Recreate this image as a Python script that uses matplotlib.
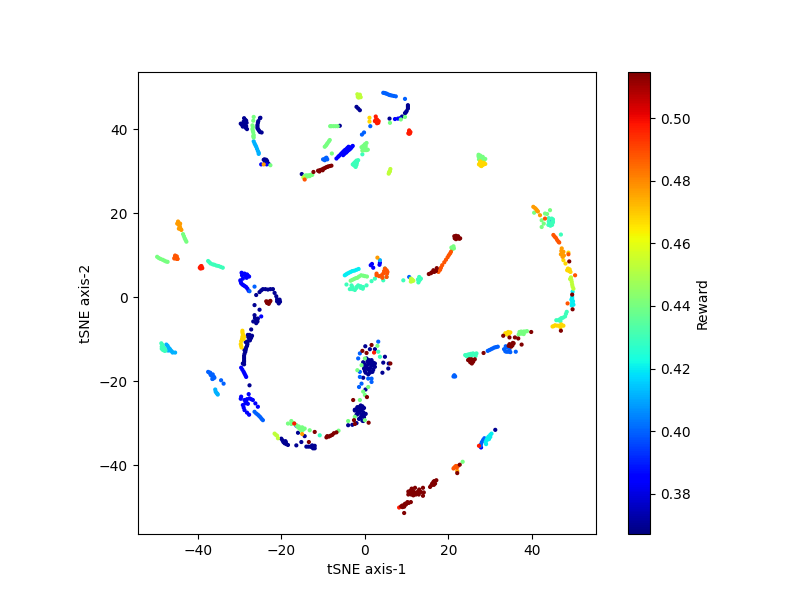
import numpy as np
import matplotlib
matplotlib.use('Agg')
import matplotlib.pyplot as plt

# === DATA === (x, y, grouped by reward level)
navy = [(-29.7,41.3),(-29,41.8),(-28.8,41),(-28.5,40.3),(-28.3,41.5),(-28.9,42.6),(-29.2,40.6),(-28.4,42),(-28.2,40),
        (-29,41),(-28.7,41.6),(-29.4,41),(-28.6,42.2),(-28.4,40.7),
        (-25.1,42.6),(-25.5,41.9),(-25.7,41),(-25.7,40.2),(-25.3,39.6),(-24.7,39.2),(-25,42.7),(-25.6,41.5),(-25.7,40.6),(-25.5,39.9),(-25.1,39.3),
        (-24.2,32.7),(-23.6,32.7),(-23.3,32),(-23.9,32.2),(-23,31.7),(-23.8,32.5),(-23.4,32.4),(-24,32.8),(-15.1,29.3),(-6,40.8),
        (-2,45.3),(-1.6,44.9),(-1.2,44.5),(5.9,42.5),(10.3,45.7),(10.3,44.9),(10,44.3),(9.6,43.8),(8.9,43),(9.8,44),(10.3,45.3),
        (-26,0.5),(-25.2,1.2),(-24.4,1.9),(-23.2,1.8),(-22,1.9),(-21.2,0.2),(-20.4,-0.6),(-20.6,-1.5),(-21,-1),(-21,-0.5),(-20.3,-1.1),(-21.6,1),
        (-24.8,1.6),(-23.8,1.9),(-22.6,1.9),
        (-26.4,-1.9),(-25.2,-3),(-26.4,-4.3),(-25.8,-5.5),(-26.7,-5.8),(-26,-6.2),(-25.6,-5.1),(-25.7,-5.8),(-26.3,-5),(-27.2,-7.7),
        (-27.6,-9),(-27.2,-9.6),(-27.5,-10.3),(-28.1,-11.2),(-28.4,-12),(-28.6,-13),(-28.9,-14),(-28.9,-15),(-28.9,-16),
        (-28,-10.5),(-27.3,-9.8),(-28,-9),(-28.8,-12.6),(-29.2,-15.8),(-27.6,-21),
        (-27.6,-9.8),(-28.2,-11.6),(-28.5,-12.5),(-28.8,-13.5),(-28.9,-14.5),(-28.9,-15.4),(-28.5,-10.7),(-27.9,-9.5),(-27,-9.2),
        (-20,-33.7),(-19.5,-34.5),(-18.8,-35),(-18.4,-35.2),(-19.2,-34.8),(-19.7,-34.1),(-19,-34.3),(-18.9,-34.6),
        (-16.4,-35.3),(-16,-32.3),(-14.4,-33.1),(-15.2,-34.5),
        (-14,-35.6),(-13,-35.6),(-12.4,-36),(-12,-35.4),(-12,-36),(-12.6,-35.3),(-13.5,-35.6),(-12.7,-35.7),(-12.2,-35.7),
        (0.1,-11.7),(1.2,-12.4),(2.4,-12.4),(-0.4,-15.5),(0.4,-14.6),(1,-15),(1.6,-15),(2,-15.6),(2.4,-15.8),(0.8,-16),(0,-16.2),
        (-0.2,-17),(0.6,-17),(1.4,-16.8),(2,-17.3),(1.2,-18),(0.2,-18),(4.8,-14.2),(5.7,-15.8),(5.6,-17),(4.2,-18),(4.4,-15.6),
        (0.6,-15.4),(1.4,-15.6),(1.8,-16.2),(0.4,-16.6),(1,-17.4),(1.8,-17.8),(-0.2,-15.9),(0.8,-18.4),(1.6,-16.2),(2.4,-16.6),(0,-17.6),
        (0.15,-22),(-0.4,-19.2),(-1.8,-26.2),(-1,-25.8),(-0.2,-26.4),(-2.4,-27),(-1.4,-27.4),(-0.4,-27.4),(0.2,-27.8),(-2,-28),
        (-1,-28.6),(-0.2,-28.6),(-0.6,-29.4),(-2.4,-26.8),(-4,-30.5),(-2,-30),(-0.4,-29.5),(-3,-30.4),(31.2,-31.6),
        (-1.4,-26.2),(-0.6,-26),(-1.9,-26.6),(-1,-27),(-1.7,-27.8),(-0.8,-28),(-0.4,-28.1),(-1.4,-29),(-1.8,-27.2),(-0.8,-26.8)]
blue = [(-6.8,33),(-6.1,33.7),(-5.4,34.4),(-4.8,35),(-4.2,35.5),(-3.9,35.8),(-5.2,33.8),(-4.5,34.4),(-3.9,35),(-3.3,35.5),(-2.9,36),
        (-6.4,33.4),(-5.7,34.1),(-5.1,34.7),(-4.5,35.2),(-4.9,34.1),(-4.2,34.7),(-3.6,35.2),(-3.1,35.8),
        (7.2,42.4),(7.9,42.5),(8.4,42.6),(-24.8,31.6),(-23.5,31.6),
        (-29.5,5.8),(-29,5.5),(-28.2,5.4),(-27.7,4.9),(-28,5),(-29.8,4),(-29.6,3.3),(-29,2.8),(-28.4,2.4),(-27.8,1.5),(-28.3,4.6),
        (-28.8,5.6),(-28,5.1),(-29.7,3.7),(-29.3,3),(-28.7,2.6),(-28.1,2),(-29.4,5.2),(-29.2,4.4),(-28.6,5),
        (-24.8,-4.6),(1.4,7.6),(2,7),(3.6,8.2),(1.7,7.9),(3.5,7.7),(-29.6,-16.8),(-29,-17.8),(-28.6,-18.6),(-28.4,-19),(-28.8,-18.2),(-29.3,-17.3),
        (-27.8,-23.1),(-29.6,-23.7),(-29.7,-24.2),(-28.8,-24.5),(-27.6,-24.1),(-26.8,-24.5),(-25.6,-26.1),(-28.4,-24.9),
        (-29.2,-25.7),(-28.8,-26.9),(-27.7,-28),(-28.6,-25.3),(-28.2,-24.3),(-27.2,-24.3),(-26.2,-25.3),(-29,-26.3),(-28.2,-27.5),(-28,-25.4),
        (-16.4,-30.6),(27.8,-35.8)]
azure = [(-10,32.8),(-9.2,33.2),(-9.5,33),(-9.6,32.6),(-9,32.8),(4.4,48.65),(5,48.5),(5.7,48.2),(6.4,48),(7.4,47.8),(4.7,48.6),(5.3,48.4),(6,48.1),(6.9,47.9),
         (9.6,47.2),(1.3,40.7),(-0.7,38.7),(-0.2,39.2),
         (-27.6,1.4),(-26.4,2.5),(10.6,4.8),(44.5,18.3),(33.3,-12.4),(34.3,-13),(36.1,-13),(34,-12),(33.9,-13),(34.8,-13.1),(33.6,-12.9),(33.7,-11.7),(34.6,-12.6),
         (29.4,-12.8),(30.2,-12.4),(31,-12),(31.8,-11.8),(29.8,-12.6),(30.6,-12.2),(31.4,-11.9),(21.4,-18.8),(21.4,-18.6),(21.6,-18.9),(21.2,-18.9),
         (28.3,-34),(27.8,-35),(27.7,-35.4),(28,-34.5),(28.6,-33.6),(-37.5,-17.8),(-37,-18),(-36.4,-18.4),(-36.1,-19),(-36.5,-19.5),(-36,-19.2),
         (-37.2,-18),(-36.7,-18.7),(-36.9,-18.5),(-36.3,-19.4),
         (-34.4,-19.8),(-33.8,-20.6),(-26.4,-27.3),(-25.6,-28),(-25,-28.6),(-24.4,-29.3),(-26,-27.7),(-25.3,-28.3),(-24.7,-29),
         (3.2,-10.6),(-1.2,-13.4),(-1.6,-14.6),(-1.2,-17.8),(-1.2,-19),(0.8,-19.4),(1.6,-19.4),(-0.8,-20.6),(1.6,-20.2),(-1.4,-21.4)]
light_blue = [(-26.6,37.1),(-26.2,36.2),(-25.8,35.3),(-25.4,34.4),(-25.4,34.1),(-26.4,36.6),(-26,35.8),(-25.6,34.8),
              (-47.5,-11.3),(-47,-12),(-46.5,-12.6),(-46,-13.2),(-47.2,-11.6),(-46.7,-12.3),(-46.2,-12.9),(-46.8,-12.7),
              (-45.4,-13.2),(-47.2,-12.7),(-35.7,-22.5),(-35.3,-23),(-35.2,-23.2),(-35.8,-22),(-35.5,-22.8),(3.6,8.8)]
cyan = [(-4.8,5.2),(-4.2,5.6),(-3.4,6),(-2.5,6.3),(-1.5,6.7),(-4.5,5.4),(-3.8,5.8),(-3,6.2),(-2,6.5),
        (49.7,1.3),(49.6,0),(49.6,-0.8),(49.6,-1.7),(49.5,-2),(49.6,-0.4),(49.6,-1.3),(49.8,-1),(49.4,-0.6),(49.9,-1.8),
        (30.3,-32.5),(29.6,-33.2),(29.1,-34),(29,-35),(29.4,-33.9),(30,-32.8),(29.3,-33.6),(28.9,-34.5),(29.7,-33.8),(30,-33.3)]
turquoise = [(-0.6,34),(-2.6,31.4),(-2,31.5),(-2,32.5),(-1.6,32.6),(-2.9,31.6),(-2.2,31),(-2.3,31.2),(-2.6,31.9),(-1.9,32),(-2.3,32.2),
             (-37.5,8.6),(-36.9,8),(-36,7.7),(-35,7.4),(-34,7),(-36.4,7.8),(-35.5,7.5),(-34.5,7.2),(-37.2,8.3),
             (-48.7,-11),(-48.6,-11.8),(-48.3,-12.6),(-47.9,-12.8),(-48.4,-11.4),(-48.2,-12),(-47.9,-12.3),(-48.6,-12.3),(-47.7,-12.7),
             (-4.4,3),(-3.6,1.9),(-2.4,1.7),(-1.6,2.8),(-0.4,2.4),(0.4,2.8),(1.6,3.8),(2.4,4.4),(4,4.8),(5.2,4.8),(4.4,4),
             (-3,2.4),(-2,2.2),(-1,2.6),(-0.5,2),(-3,1.9),(-2,2.4),(-3.2,2.8),(-1,2.2),(4.8,6.8),(9.2,4),(13,4.8),(13,3.9),(13.4,4.4),(12.8,3.5),(13.2,4.2),(12.7,4.2),
             (44.7,18.7),(45,18.5),(43.9,17.2),(44.3,17.5),(44,18.8),(45,17.8),(45,18),(44,18),(44.8,17.2),(44.4,17),(46.9,14.9),
             (48.3,-3.5),(47.9,-4.6),(47,-5),(46.3,-5.5),(45.8,-5.5),(47.4,-4.9),(46.6,-5.3),(48.1,-4),(46.8,-5.7),
             (24,-13.8),(24.5,-14.1),(25,-13.6),(25.9,-13.4),(26.7,-13.4),(26.5,-14),(25.6,-13.8),(24.3,-14),(25,-14),(25.4,-13.5),(26.2,-13.7),(24.6,-13.7),(25.3,-14.1),
             (-10.8,-32.9),(3.2,-13),(3.6,-14.2)]
mint = [(-26.6,42.9),(-26.7,42),(-26.9,40.9),(-26.9,40),(-26.7,39.2),(-26.6,38.6),(-26.6,38),(-26.8,40.5),(-26.8,39.6),(-26.7,38.3),(-22.6,31.4),
        (-14.4,28.9),(-14,29),(-13.5,29),(-13,29.1),(-12.6,29.1),(-13.8,28.7),(-13.2,28.8),(-9.6,35.8),(-9.1,36.4),(-8.6,37.1),(-8.4,37.4),(-9.3,36.1),(-8.9,36.7),(-7.9,34.2),
        (-8.3,40.7),(-7.5,40.7),(-7,40.7),(-6.5,40.7),(-8,40.7),(9.6,42.9),(8.6,42.3),(6,41.5),(0.4,36.7),(0,36.4),(-0.8,35.7),(-0.3,35),
        (0.4,35),(0.7,35.1),(-0.4,36),(0.2,35.4),(-0.4,35.4),(0,35),(0.2,36),(-0.6,34.9),
        (27.2,33.5),(27.3,32.8),(28,33),(28.8,32.9),(27.2,33.9),(27.7,33.2),(28.4,33),(27.6,33.7),(28.2,33.4),(27.8,32.6),(28.5,32.6),
        (-43.5,15),(-43.1,14),(-42.7,13.2),(-43.3,14.5),(-42.9,13.6),(-49.7,9.6),(-48.9,9.1),(-48,8.7),(-47.2,8.4),(-49.3,9.3),(-48.4,8.9),(-47.6,8.5),
        (-3.4,3.9),(-2.6,4.3),(-1.8,4.6),(-0.9,5.2),(0,5),(0.5,4.9),(-3,4.1),(-2.2,4.5),(-1.4,4.9),(-0.4,5.1),(21,11.8),(21.2,12.1),(20.9,11.4),(21.3,11.6),(20.7,11.8),
        (44.3,20.7),(43.1,19.9),(42.3,18.3),(42.3,16.7),(42.8,17.5),(43.6,19.8),(40.5,20.1),
        (37,-8.3),(38,-8.2),(38.8,-8.1),(36.8,-8.9),(37.9,-8.6),(37.4,-8.2),(38.4,-8.2),(37.4,-8.7),(38,-8.8),(23.4,-39.2),
        (-18.4,-30.1),(-17.6,-29.5),(-15.6,-31.3),(-16.4,-30.5),(-14.4,-31.3),(-13.2,-31.7),(-15.8,-30.8),(-15.2,-31.8),(-6.3,-31.8),
        (-17,-30),(-16,-31),(-15,-31),(-14.8,-31.6),(-17.6,-30.2),
        (3,-11.6),(0,-14.6),(-0.8,-16.2),(-1.8,-17.4),(0.8,-21.4),(-0.4,-22.5),(0,-23.3),(-1.2,-24.5),(-4,-29.5),(-2.4,-28.5),(0,-29.3)]
lime = [(-1.8,48.3),(-1.4,47.9),(-1.2,47.7),(-1,47.6),(-1.6,48.1),(-1.5,47.5),(-1.2,48.2),(-1.7,47.7),(5.8,29.7),(6,30),(6.1,30.5),(5.9,29.9),(5.7,29.4),
        (11.3,4.2),(11.3,3.8),(11,4.4),(11,3.7),(11.6,3.9),(49.3,4.7),(49.5,3.6),(49.7,2.5),(49.9,2),(49.4,4.1),(49.6,3),(49.1,4.3),
        (-21.6,-32.5),(-21,-33),(-20.8,-33.6),(-21.3,-32.8),(-14.7,28.5)]
yellow = [(1.1,42.7),(1.1,41.8),(27.3,31.6),(28,31.5),(28.8,31.7),(27.9,31.2),(27.6,32.3),(28.3,31.5),(27.5,31.9),(28.4,32),(28,32),(27.7,31.3),
          (-29.3,-8),(-29.2,-8.8),(-29.3,-9.5),(-29.6,-10.5),(-29.7,-11.2),(-29.5,-12),(-29,-10),(-29.3,-8.4),(-29.2,-9.2),(-29.4,-10),(-29.6,-11.6),(-28.9,-9.4),
          (48.7,10.6),(47.5,8.8),(48,8),(48.9,6.2),(48.4,6.4),(49,6.6),(49.2,6),(48.7,6.4),(48.6,6.8),
          (45.5,-6.7),(46.5,-6.8),(47.5,-6.8),(44.9,-7),(46.8,-7.2),(46,-6.8),(47,-6.5),(45.2,-6.9),
          (34.3,-8.3),(33.6,-8.6),(34.8,-8.4),(34.1,-8.5),(34.5,-8.7),(34,-8.9)]
amber = [(-44.7,18),(-44.5,17.2),(-44.2,16.5),(-43.9,16),(-44.5,17.6),(-44.3,16.9),(-44.1,16.2),(-44.9,17.5),(-44.2,17.5),(-44.5,16.3),
         (3,9.4),(40.3,21.5),(41,20.9),(41.4,20.4),(41.9,19.5),(40.7,21.2),(41.2,20.6),
         (47.1,11.6),(47.2,10.5),(47.3,9.6),(47.6,9.9),(47,11),(47.5,10.8),(47.5,9.9),(46.9,10.2),(22.1,-41.4),(-15,-32.6),(-24.2,31.6)]
orange = [(-14.4,28),(-45.4,9.6),(-45.2,9.2),(-45.6,9.2),(-44.9,9.1),(-45,9.7),(-44.8,9.1),(-45.2,9.4),(-45.5,9.4),(-45.4,9.9),
          (2.8,5.2),(4,5.2),(5.2,6.4),(5.2,4.8),(4.8,6.8),(4.4,5.6),(5.3,5.6),(2.8,5.6),(3.4,5),(4.6,6.2),(5.4,6),(4.2,4.6),
          (17.6,6),(18.2,7),(19,8.3),(19.8,9.5),(20.4,10.4),(20.6,10.8),(18,6.5),(18.5,7.6),(19.4,8.9),(20.1,10),
          (43.1,18.7),(45.1,14.8),(45.7,14.1),(46.3,13.2),(46.5,13),(45.4,14.4),(46,13.6),(48.7,10.2),(50.3,5.2),(48.5,-1.5),
          (21.8,-40.2),(21.4,-40.6),(22.3,-40.2),(21.2,-40.8),(21.6,-40.4),(22,-40.6)]
red = [(2.6,43),(2.9,41.9),(2.4,41.9),(3.3,41.9),(2.9,41.4),(2.9,42.3),(2.6,42.2),(3.2,41.5),(10.6,39.4),(10.6,38.9),(10.9,39.3),(10.4,39),(10.8,39),(10.6,39.7),
       (-39.3,7.3),(-39.3,6.8),(-38.9,6.9),(-39.1,7.4),(-39.1,7.1),(-39.5,7),(8.2,-50.1),(27.3,-35.4),(2.2,-13.2),(-16.9,-30.1)]
dark_red = [(-12.3,29.8),(-11.2,30.1),(-10.5,30.3),(-9.9,30.6),(-9.3,30.9),(-8.8,31.1),(-8,31.3),(-10.8,30.2),(-10.2,30.4),(-9.6,30.7),(-9,31),(-8.4,31.2),(-10.9,29.9),(-10.1,30.2),
            (-23.2,-1.1),(-22.8,-1.2),(-23.6,-1),(-23,-1.6),(-23.4,-1.4),(-22.6,-0.9),(15.3,5.5),(16,5.9),(17,6.2),(17.2,6.9),(16.6,6),(15.8,5.7),(16.4,6.4),
            (21.8,14.6),(21.5,14),(22.2,14),(22.6,13.9),(21.8,13.8),(21.9,14.2),(22.3,14.5),(21.4,14.5),(22.8,14),(48.9,8.5),(49.6,0.6),(49.7,-2.9),(46.9,-8),
            (33.1,-9.2),(34.6,-9.6),(35.9,-9.6),(36.7,-9.85),(39.8,-8.3),(35.1,-11.3),(34.6,-11.2),(35.6,-11),(35,-11.8),(37.5,-11.3),(35.3,-11.5),(34.8,-11.6),(34.4,-11.6),(35.4,-10.9),
            (28.4,-13.3),(24.7,-15),(25.2,-15.5),(26,-15),(26.3,-14.8),(25.5,-15.1),(25.6,-15.8),(25,-14.8),(25.5,-14.8),(25.9,-15.4),(25.2,-15),(22.7,-39.9),(22.1,-41.9),
            (16.4,-44),(17.1,-43.6),(15.9,-44.8),(15.6,-45.2),(16.8,-44.4),(16.1,-44.4),(16.5,-44.7),(16.6,-43.8),
            (11.6,-46.2),(11.6,-47.2),(10.6,-46.8),(10.4,-46.3),(12.4,-46.5),(11.8,-46.8),(12.9,-47),(13,-45.8),(11.1,-47),(10.9,-46.1),
            (11.2,-45.6),(12,-45.4),(12.8,-46.2),(13.4,-46.4),(13.9,-45.4),(14.1,-46.5),(13.9,-47.3),(12.2,-47),(11.1,-46.6),(10.4,-47),
            (9,-49.6),(9.8,-49.4),(10.2,-48.8),(11,-48.8),(9.4,-49.9),(10,-49.1),(9.6,-49.2),(10.5,-49),(9,-50),(8.7,-49.8),(9.4,-51.4),
            (-13.4,-34.5),(-12,-32.1),(-9.2,-33.4),(-9,-33.1),(-8.2,-33),(-7.4,-32.4),(-6.8,-32.2),(-8.6,-33.2),(-7.8,-32.8),
            (1.6,-11.4),(-0.6,-12.8),(0.4,-13.3),(6.1,-15.8),(0.5,-23.8),(-2.8,-24.5),(-2.6,-29.3),(0.9,-29.9),(-2.4,-30.2)]

groups = [navy, blue, azure, light_blue, cyan, turquoise, mint, lime, yellow, amber, orange, red, dark_red]
levels = [0.37, 0.385, 0.40, 0.411, 0.42, 0.43, 0.44, 0.453, 0.468, 0.477, 0.488, 0.497, 0.515]

points = np.concatenate([np.array(g) for g in groups])
rewards = np.concatenate([np.full(len(g), r) for g, r in zip(groups, levels)])

# === PLOTTING ===
fig = plt.figure(figsize=(8, 6), dpi=100)
ax = fig.add_axes([137.5/800, 66/600, 458.5/800, 462/600])
cax = fig.add_axes([627.5/800, 66/600, 22.5/800, 462/600])

sc = ax.scatter(points[:, 0], points[:, 1], c=rewards, s=4, cmap='jet', vmin=0.3672, vmax=0.5147)
ax.set_xlim(-54.4, 55.3)
ax.set_ylim(-56.4, 53.6)
ax.set_xticks([-40, -20, 0, 20, 40])
ax.set_yticks([-40, -20, 0, 20, 40])
ax.set_xlabel('tSNE axis-1')
ax.set_ylabel('tSNE axis-2')

fig.colorbar(sc, cax=cax, label='Reward')
plt.savefig('out.png', dpi=100)
